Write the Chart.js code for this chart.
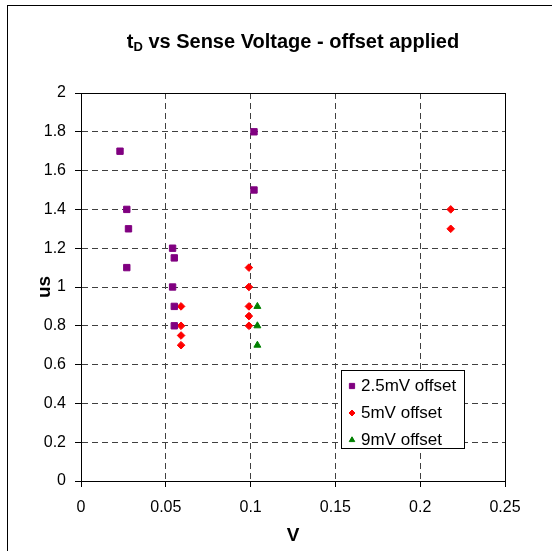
<!DOCTYPE html>
<html>
<head>
<meta charset="utf-8">
<script src="https://cdn.jsdelivr.net/npm/chart.js@4.4.1/dist/chart.umd.min.js"></script>
<style>
  html, body { margin: 0; padding: 0; background: #fff; overflow: hidden; }
  body { font-family: "Liberation Sans", Arial, sans-serif; }
  #frame { position: absolute; left: 7px; top: 5px; width: 600px; height: 600px;
           border-left: 1px solid #000; border-top: 1px solid #000; pointer-events: none; }
  #chartBox { position: absolute; left: 0; top: 0; width: 552px; height: 551px; }
  #title { position: absolute; left: 81px; width: 424px; top: 29px; line-height: 24px;
           text-align: center; font-weight: bold; font-size: 20px; color: #000; }
  #title sub { font-size: 65%; line-height: 0; vertical-align: -0.25em; }
  #legend { position: absolute; left: 341px; top: 370px; width: 122px; height: 76px;
            border: 1px solid #000; background: #fff; padding-top: 1px; }
  .row { height: 27px; display: flex; align-items: center; font-size: 17px; color: #000; }
  .row canvas { margin-left: 5px; margin-right: 4px; }
</style>
</head>
<body>
<div id="chartBox"><canvas id="tdChart" width="552" height="551"></canvas></div>
<div id="frame"></div>
<div id="title">t<sub>D</sub> vs Sense Voltage - offset applied</div>
<div id="legend"></div>
<script>
// values (x in V, y in us)
const seriesNames = ['2.5mV offset', '5mV offset', '9mV offset'];

const x2p5 = [0.023, 0.027, 0.028, 0.027, 0.054, 0.055, 0.054, 0.055, 0.055, 0.102, 0.102];
const y2p5 = [1.7, 1.4, 1.3, 1.1, 1.2, 1.15, 1.0, 0.9, 0.8, 1.8, 1.5];

const x5 = [0.059, 0.059, 0.059, 0.059, 0.099, 0.099, 0.099, 0.099, 0.099, 0.218, 0.218];
const y5 = [0.9, 0.8, 0.75, 0.7, 1.1, 1.0, 0.9, 0.85, 0.8, 1.4, 1.3];

const x9 = [0.104, 0.104, 0.104];
const y9 = [0.9, 0.8, 0.7];

const xTickLabels = ['0', '0.05', '0.1', '0.15', '0.2', '0.25'];
const yTickLabels = ['0', '0.2', '0.4', '0.6', '0.8', '1', '1.2', '1.4', '1.6', '1.8', '2'];

const toPoints = (xs, ys) => xs.map((x, i) => ({ x: x, y: ys[i] }));

const font = '"Liberation Sans", Arial, sans-serif';

// solid box round the plot area (Excel style), drawn under the markers
const plotFrame = {
  id: 'plotFrame',
  beforeDatasetsDraw(chart) {
    const a = chart.chartArea;
    const c = chart.ctx;
    c.save();
    c.strokeStyle = '#000';
    c.lineWidth = 1;
    c.strokeRect(Math.round(a.left) + 0.5, Math.round(a.top) + 0.5,
                 Math.round(a.right - a.left), Math.round(a.bottom - a.top));
    c.restore();
  }
};

const chart = new Chart(document.getElementById('tdChart'), {
  type: 'scatter',
  data: {
    datasets: [
      {
        label: seriesNames[0],
        data: toPoints(x2p5, y2p5),
        pointStyle: 'rect',
        pointRadius: 4.5,
        borderWidth: 1,
        backgroundColor: '#800080',
        borderColor: '#800080'
      },
      {
        label: seriesNames[1],
        data: toPoints(x5, y5),
        pointStyle: 'rectRot',
        pointRadius: 3.8,
        borderWidth: 1,
        backgroundColor: '#ff0000',
        borderColor: '#ff0000'
      },
      {
        label: seriesNames[2],
        data: toPoints(x9, y9),
        pointStyle: 'triangle',
        pointRadius: 4,
        borderWidth: 1,
        backgroundColor: '#008000',
        borderColor: '#008000'
      }
    ]
  },
  options: {
    responsive: false,
    animation: false,
    layout: { padding: { top: 93, right: 47, bottom: 0, left: 0 } },
    plugins: {
      legend: { display: false },
      tooltip: { enabled: false }
    },
    scales: {
      x: {
        type: 'linear',
        min: 0,
        max: 0.25,
        afterFit: s => { s.height = 70; },
        ticks: {
          stepSize: 0.05,
          padding: 11,
          color: '#000',
          font: { family: font, size: 16 },
          callback: (v, i) => xTickLabels[i]
        },
        grid: { color: '#404040', tickColor: '#000', tickLength: 6 },
        border: { color: '#000', width: 1, dash: [6, 4] },
        title: {
          display: true,
          text: 'V',
          color: '#000',
          font: { family: font, size: 19, weight: 'bold' },
          padding: { top: 0, bottom: 4 }
        }
      },
      y: {
        type: 'linear',
        min: 0,
        max: 2,
        afterFit: s => { s.width = 81; },
        ticks: {
          stepSize: 0.2,
          padding: 9,
          color: '#000',
          font: { family: font, size: 16 },
          callback: (v, i) => yTickLabels[i]
        },
        grid: { color: '#404040', tickColor: '#000', tickLength: 6 },
        border: { color: '#000', width: 1, dash: [6, 4] },
        title: {
          display: true,
          text: 'us',
          color: '#000',
          font: { family: font, size: 19, weight: 'bold' },
          padding: { top: 33, bottom: 0 }
        }
      }
    }
  },
  plugins: [plotFrame]
});

// legend box inside the plot, markers drawn with Chart.js's own point helper
const legendEl = document.getElementById('legend');
chart.data.datasets.forEach(ds => {
  const row = document.createElement('div');
  row.className = 'row';
  const mk = document.createElement('canvas');
  mk.width = 10; mk.height = 10;
  const g = mk.getContext('2d');
  g.fillStyle = ds.backgroundColor;
  g.strokeStyle = ds.borderColor;
  g.lineWidth = 1;
  Chart.helpers.drawPoint(g, { pointStyle: ds.pointStyle, radius: ds.pointRadius - 0.8, borderWidth: 1, rotation: 0 }, 5, 5);
  const label = document.createElement('span');
  label.textContent = ds.label;
  row.appendChild(mk);
  row.appendChild(label);
  legendEl.appendChild(row);
});
</script>
</body>
</html>
